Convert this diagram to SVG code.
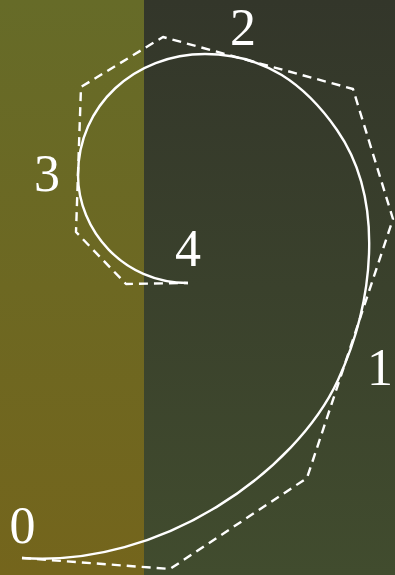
<svg xmlns="http://www.w3.org/2000/svg" width="395" height="575" viewBox="0 0 395 575">
<defs>
<linearGradient id="gl" x1="0" y1="0" x2="0" y2="1"><stop offset="0" stop-color="#666b28"/><stop offset="1" stop-color="#74651c"/></linearGradient>
<linearGradient id="gr" x1="0" y1="0" x2="0" y2="1"><stop offset="0" stop-color="#33362a"/><stop offset="1" stop-color="#414c2e"/></linearGradient>
<style>
.poly{fill:none;stroke:#fff;stroke-width:2.4;stroke-dasharray:9 6;stroke-linejoin:round}
.curve{fill:none;stroke:#fff;stroke-width:2.4}
.lbl{font-family:"Liberation Serif","DejaVu Serif",serif;font-size:52px;fill:#fff;text-anchor:middle}
</style>
</defs>
<rect x="0" y="0" width="144" height="575" fill="url(#gl)"/>
<rect x="144" y="0" width="251" height="575" fill="url(#gr)"/>
<g id="connectors">
<polyline class="poly" points="22,558 170,569 307,478 393,219 353,89 163,37 81,87 76,232 126,284 188,283"/>
<path class="curve" d="M22,558 C162,568 296,471 338,380 C373.7,302.6 385.5,199.7 337,130 C305.6,84.9 265,54 205,54 C135,54 78,105 78,175 C78,230 123,283 188,283"/>
</g>
<g id="label0"><text class="lbl" x="22.5" y="543">0</text></g>
<g id="label1"><text class="lbl" x="380" y="385">1</text></g>
<g id="label2"><text class="lbl" x="243" y="45">2</text></g>
<g id="label3"><text class="lbl" x="47" y="191">3</text></g>
<g id="label4"><text class="lbl" x="188" y="266">4</text></g>
</svg>
